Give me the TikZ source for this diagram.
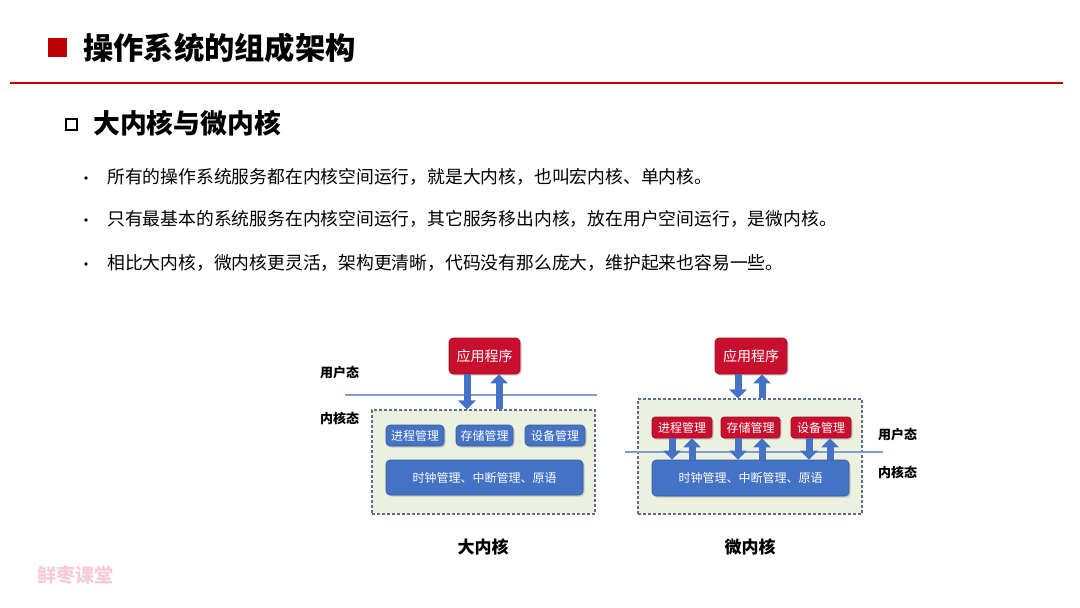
\documentclass[tikz,border=0pt]{standalone}
\usepackage{fontspec}
\setmainfont{Noto Sans CJK SC}
\usetikzlibrary{arrows.meta,shadows}
\definecolor{titred}{HTML}{C00000}
\definecolor{boxred}{HTML}{C8102E}
\definecolor{boxblue}{HTML}{4472C4}
\definecolor{kgreen}{HTML}{EBF1DE}
\definecolor{kborder}{HTML}{5B6F8C}
\definecolor{sepblue}{HTML}{7F9FD4}
\definecolor{wmark}{HTML}{F6CCD4}
\tikzset{
  redbox/.style={draw=boxred!80!black, line width=0.6pt, fill=boxred, rounded corners=4pt, text=white, font=\fontsize{14}{14}\selectfont, inner sep=0pt, drop shadow={shadow xshift=1.5pt, shadow yshift=-1.5pt, opacity=0.35}},
  smallred/.style={redbox, font=\fontsize{12}{12}\selectfont, rounded corners=3pt},
  bluebox/.style={draw=boxblue!80!black, line width=0.6pt, fill=boxblue, rounded corners=4pt, text=white, font=\fontsize{12}{12}\selectfont, inner sep=0pt, drop shadow={shadow xshift=1.5pt, shadow yshift=-1.5pt, opacity=0.35}},
  kbox/.style={draw=kborder, dash pattern=on 3pt off 2pt, line width=1.1pt, fill=kgreen, inner sep=0pt},
  barrow/.style={draw=boxblue, line width=7pt, -{Triangle[width=17pt,length=9pt]}},
  sepline/.style={draw=sepblue, line width=1.3pt},
  lbl/.style={font=\bfseries\fontsize{13}{13}\selectfont, inner sep=0pt},
  capt/.style={font=\bfseries\fontsize{17}{17}\selectfont, inner sep=0pt},
  bul/.style={font=\fontsize{17.8}{17.8}\selectfont, anchor=west, inner sep=0pt},
  dot/.style={circle, fill=black, minimum size=3.6pt, inner sep=0pt},
}
\begin{document}
\begin{tikzpicture}[x=1pt,y=-1pt]
\useasboundingbox (0,0) rectangle (1080,608);
% header
\node[fill=titred, minimum size=19pt, inner sep=0pt] (sq) at (57,47) {};
\node[font=\bfseries\fontsize{30.3}{30.3}\selectfont, anchor=west, inner sep=0pt] (title) at (83,48) {操作系统的组成架构};
\coordinate (hl) at (10,83);
\coordinate (hr) at (1063,83);
\draw[titred, line width=1.3pt] (hl) -- (hr);
\node[draw=black, line width=2pt, minimum size=11pt, inner sep=0pt] (hsq) at (71,124) {};
\node[font=\bfseries\fontsize{26.8}{26.8}\selectfont, anchor=west, inner sep=0pt] (sub) at (93,123) {大内核与微内核};
% bullets
\node[dot] (b1d) at (86,178) {};
\node[bul] (b1) at (107,177) {所有的操作系统服务都在内核空间运行，就是大内核，也叫宏内核、单内核。};
\node[dot] (b2d) at (86,220) {};
\node[bul] (b2) at (107,219) {只有最基本的系统服务在内核空间运行，其它服务移出内核，放在用户空间运行，是微内核。};
\node[dot] (b3d) at (86,264) {};
\node[bul] (b3) at (107,263) {相比大内核，微内核更灵活，架构更清晰，代码没有那么庞大，维护起来也容易一些。};
% ===== left: monolithic =====
\node[kbox, minimum width=223pt, minimum height=104pt] (k1) at (483.5,462) {};
\coordinate (u1l) at (345,395);
\coordinate (u1r) at (597,395);
\draw[sepline] (u1l) -- (u1r);
\node[redbox, minimum width=71pt, minimum height=36pt] (app1) at (484.5,356) {应用程序};
\node[bluebox, minimum width=58pt, minimum height=21pt] (p1) at (415,435.5) {进程管理};
\node[bluebox, minimum width=57pt, minimum height=21pt] (s1) at (484.5,435.5) {存储管理};
\node[bluebox, minimum width=60pt, minimum height=21pt] (d1) at (555,435.5) {设备管理};
\node[bluebox, minimum width=197pt, minimum height=35pt] (big1) at (484.5,477.5) {时钟管理、中断管理、原语};
\draw[barrow] (app1.south -| 467,0) -- (k1.north -| 467,0);
\draw[barrow] (k1.north -| 499,0) -- (app1.south -| 499,0);
\node[lbl, anchor=west] (us1) at (320,373) {用户态};
\node[lbl, anchor=west] (ks1) at (320,418) {内核态};
\node[capt] (c1) at (483,547) {大内核};
% ===== right: microkernel =====
\node[kbox, minimum width=224pt, minimum height=115pt] (k2) at (750,456.5) {};
\node[redbox, minimum width=72pt, minimum height=36pt] (app2) at (751,356) {应用程序};
\node[smallred, minimum width=60pt, minimum height=21pt] (p2) at (682,427.5) {进程管理};
\node[smallred, minimum width=59pt, minimum height=21pt] (s2) at (750.5,427.5) {存储管理};
\node[smallred, minimum width=60pt, minimum height=21pt] (d2) at (821,427.5) {设备管理};
\node[bluebox, minimum width=197pt, minimum height=36pt] (big2) at (750.5,478) {时钟管理、中断管理、原语};
\coordinate (u2l) at (625,452);
\coordinate (u2r) at (883,452);
\draw[sepline] (u2l) -- (u2r);
\draw[barrow] (app2.south -| 738,0) -- (k2.north -| 738,0);
\draw[barrow] (k2.north -| 762,0) -- (app2.south -| 762,0);
\draw[barrow] (p2.south -| 672,0) -- (big2.north -| 672,0);
\draw[barrow] (big2.north -| 692,0) -- (p2.south -| 692,0);
\draw[barrow] (s2.south -| 738,0) -- (big2.north -| 738,0);
\draw[barrow] (big2.north -| 762,0) -- (s2.south -| 762,0);
\draw[barrow] (d2.south -| 809,0) -- (big2.north -| 809,0);
\draw[barrow] (big2.north -| 830,0) -- (d2.south -| 830,0);
\node[lbl, anchor=west] (us2) at (878,435) {用户态};
\node[lbl, anchor=west] (ks2) at (878,472) {内核态};
\node[capt] (c2) at (750,547) {微内核};
% watermark
\node[font=\bfseries\fontsize{19}{19}\selectfont, text=wmark, anchor=west, inner sep=0pt] (wm) at (37,575) {鲜枣课堂};
\end{tikzpicture}
\end{document}
